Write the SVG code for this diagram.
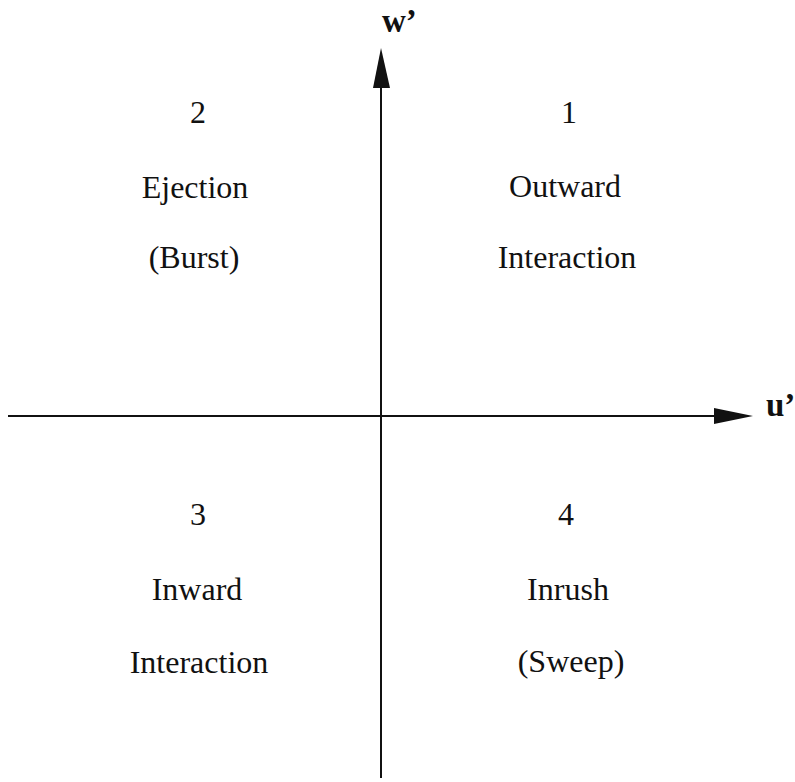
<svg xmlns="http://www.w3.org/2000/svg" width="795" height="782" viewBox="0 0 795 782">
<style>
.lbl{font-family:"Liberation Serif","Times New Roman",serif;font-size:32px;fill:#111;text-anchor:middle}
.num{font-family:"Liberation Serif","Times New Roman",serif;font-size:32px;fill:#111;text-anchor:middle}
.ax{font-family:"Liberation Serif","Times New Roman",serif;font-size:33px;font-weight:bold;fill:#111}
.axis{stroke:#111;stroke-width:2;fill:none}
.head{fill:#111;stroke:none}
</style>
<rect width="795" height="782" fill="#fff"/>
<g id="connectors">
<line class="axis" x1="8" y1="416" x2="716" y2="416"/>
<polygon class="head" points="753,416 714,408 714,424"/>
<line class="axis" x1="381" y1="86" x2="381" y2="778"/>
<polygon class="head" points="381,48 373,88 390,88"/>
</g>
<g id="axis-u">
<text class="ax" x="766" y="416">u’</text>
</g>
<g id="axis-w">
<text class="ax" x="382" y="32">w’</text>
</g>
<g id="q1">
<text class="num" x="569" y="123">1</text>
<text class="lbl" x="565" y="197">Outward</text>
<text class="lbl" x="567" y="268">Interaction</text>
</g>
<g id="q2">
<text class="num" x="198" y="123">2</text>
<text class="lbl" x="195" y="198">Ejection</text>
<text class="lbl" x="194" y="268">(Burst)</text>
</g>
<g id="q3">
<text class="num" x="198" y="525">3</text>
<text class="lbl" x="197" y="600">Inward</text>
<text class="lbl" x="199" y="673">Interaction</text>
</g>
<g id="q4">
<text class="num" x="566" y="525">4</text>
<text class="lbl" x="568" y="600">Inrush</text>
<text class="lbl" x="571" y="672">(Sweep)</text>
</g>
</svg>
